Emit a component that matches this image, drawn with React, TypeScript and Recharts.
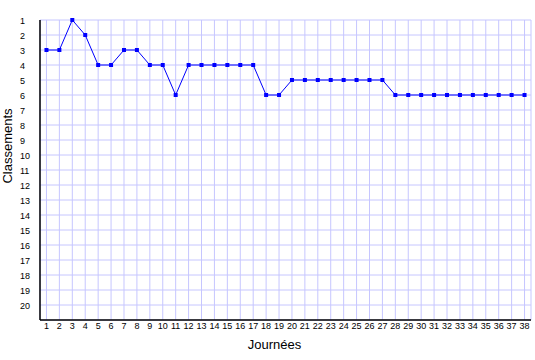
import React from 'react';
import { LineChart, Line, XAxis, YAxis, CartesianGrid } from 'recharts';

const journees: number[] = Array.from({ length: 38 }, (_, i) => i + 1);
const classements: number[] = [
  3, 3, 1, 2, 4, 4, 3, 3, 4, 4,
  6, 4, 4, 4, 4, 4, 4, 6, 6, 5,
  5, 5, 5, 5, 5, 5, 5, 6, 6, 6,
  6, 6, 6, 6, 6, 6, 6, 6,
];
const yTicks: number[] = Array.from({ length: 20 }, (_, i) => i + 1);

const data = journees.map((j, i) => ({ j, c: classements[i] }));

const FONT = 'Liberation Sans, Arial, sans-serif';

const SquareDot = (props: any) => {
  const { cx, cy } = props;
  if (cx == null || cy == null) return null;
  return <rect x={cx - 2} y={cy - 2} width={4} height={4} fill="#0000ff" />;
};

const YTick = (props: any) => {
  const { y, payload } = props;
  return (
    <text x={20} y={y} dy={3.5} textAnchor="start" fontSize={9} fill="#000" fontFamily={FONT}>
      {payload.value}
    </text>
  );
};

const XLabel = (props: any) => {
  const vb = props.viewBox || {};
  const cx = (vb.x ?? 40) + (vb.width ?? 491) / 2 - 11;
  const y = (vb.y ?? 320) + 29;
  return (
    <text x={cx} y={y} textAnchor="middle" fontSize={13} fill="#000" fontFamily={FONT}>
      Journées
    </text>
  );
};

const YLabel = (props: any) => {
  const vb = props.viewBox || {};
  const cy = (vb.y ?? 20) + (vb.height ?? 300) / 2 - 24;
  const x = 12;
  return (
    <text x={x} y={cy} transform={`rotate(-90 ${x} ${cy})`} textAnchor="middle" fontSize={13} fill="#000" fontFamily={FONT}>
      Classements
    </text>
  );
};

export default function App() {
  return (
    <div style={{ position: 'absolute', left: 0, top: 0, fontFamily: FONT }}>
      <LineChart width={535} height={360} data={data} margin={{ top: 20, right: 4, bottom: 0, left: 0 }}>
        <CartesianGrid stroke="#c6c6ff" strokeWidth={1} />
        <XAxis
          dataKey="j"
          type="number"
          domain={[0.5, 38.5]}
          ticks={journees}
          interval={0}
          tickLine={false}
          tickSize={0}
          tickMargin={3}
          height={40}
          axisLine={{ stroke: '#000', strokeWidth: 1.5 }}
          tick={{ fontSize: 9, fill: '#000' }}
          label={<XLabel />}
        />
        <YAxis
          type="number"
          reversed
          domain={[1, 21]}
          ticks={yTicks}
          interval={0}
          tickLine={false}
          width={40}
          axisLine={{ stroke: '#000', strokeWidth: 1.5 }}
          tick={<YTick />}
          label={<YLabel />}
        />
        <Line
          dataKey="c"
          stroke="#0000ff"
          strokeWidth={1}
          dot={<SquareDot />}
          activeDot={false}
          isAnimationActive={false}
        />
      </LineChart>
    </div>
  );
}
